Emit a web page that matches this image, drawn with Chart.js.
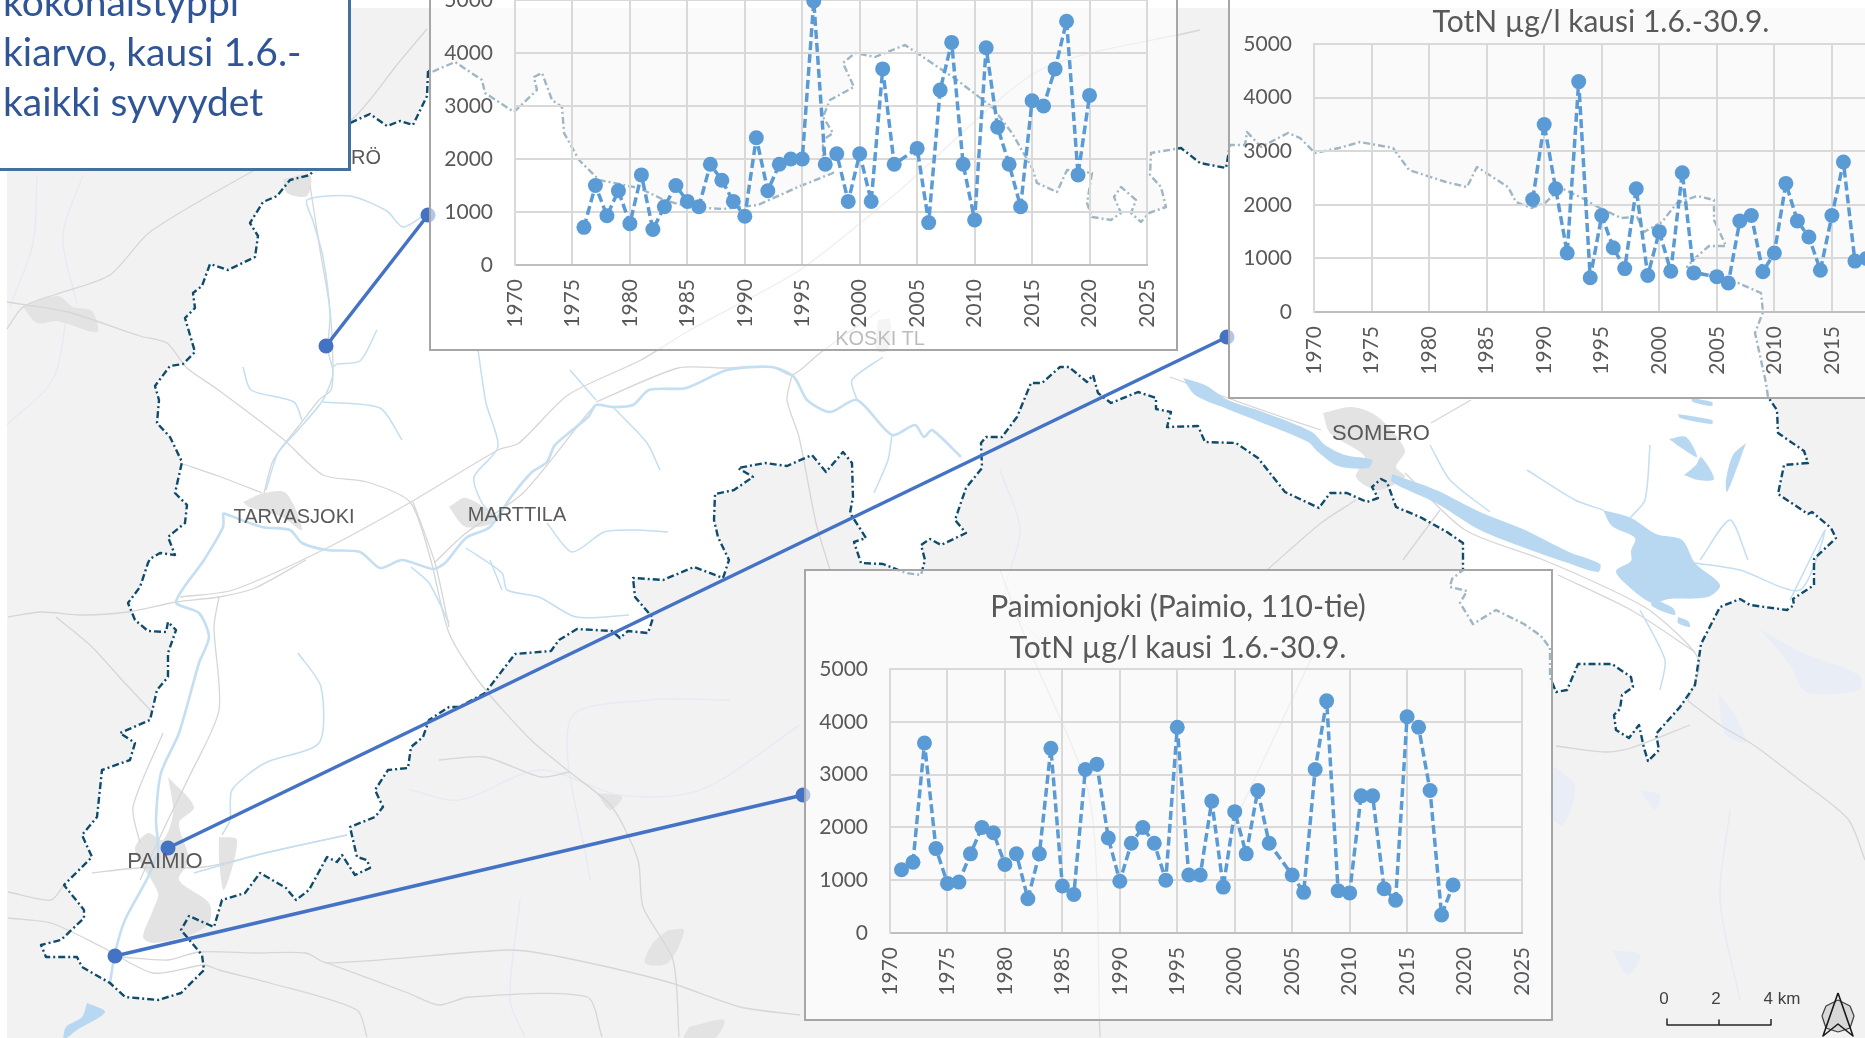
<!DOCTYPE html>
<html>
<head>
<meta charset="utf-8">
<script src="https://cdn.jsdelivr.net/npm/chart.js@4"></script>
<style>
html, body { margin: 0; width: 1865px; height: 1038px; overflow: hidden; background: #fff; }
body { position: relative; font-family: "Liberation Sans", sans-serif; }
canvas { position: absolute; display: block; }
#ground { position: absolute; left: 7px; top: 8px; right: 0; bottom: 0; background: #f2f2f3; }
.place { position: absolute; color: #595959; font-size: 20px; transform: translate(-50%, -50%); white-space: nowrap; }
.scale { position: absolute; color: #404040; font-size: 17px; transform: translate(-50%, -50%); white-space: nowrap; }
.box { position: absolute; box-sizing: border-box; border: 2px solid #a6a6a6; background: rgba(255,255,255,.6); }
#note { position: absolute; left: -3px; top: -3px; width: 354px; height: 174px; box-sizing: border-box; background: #fff; border: 3px solid #41719c; color: #2f5597; font-family: Lato, sans-serif; font-size: 39px; line-height: 50px; padding-left: 3px; white-space: nowrap; overflow: hidden; }
#note div { position: relative; top: -24px; }
</style>
</head>
<body>
<div id="ground"></div>
<canvas id="mapChart" width="1865" height="1038" style="left:0;top:0"></canvas>

<div class="place" style="left:366px;top:157px">RÖ</div>
<div class="place" style="left:294px;top:516px">TARVASJOKI</div>
<div class="place" style="left:517px;top:514px">MARTTILA</div>
<div class="place" style="left:165px;top:861px;font-size:22px">PAIMIO</div>
<div class="place" style="left:1381px;top:433px;font-size:22px">SOMERO</div>
<div class="place" style="left:880px;top:338px">KOSKI TL</div>
<div class="scale" style="left:1664px;top:999px">0</div>
<div class="scale" style="left:1716px;top:999px">2</div>
<div class="scale" style="left:1782px;top:999px">4 km</div>

<div class="box" style="left:429px;top:-10px;width:749px;height:361px"></div>
<canvas id="koskiChart" width="748" height="390" style="left:429px;top:-40px"></canvas>
<div class="box" style="left:1228px;top:-4px;width:746px;height:403px"></div>
<canvas id="someroChart" width="746" height="399" style="left:1228px;top:0"></canvas>
<div class="box" style="left:804px;top:569px;width:749px;height:452px"></div>
<canvas id="paimioChart" width="748" height="451" style="left:804px;top:569px"></canvas>

<div id="note"><div>kokonaistyppi</div><div>kiarvo, kausi 1.6.-</div><div>kaikki syvyydet</div></div>

<script>
// inset series (2004 has no sample in any of them)
const koskiYears = [1976,1977,1978,1979,1980,1981,1982,1983,1984,1985,1986,1987,1988,1989,1990,1991,1992,1993,1994,1995,1996,1997,1998,1999,2000,2001,2002,2003,2005,2006,2007,2008,2009,2010,2011,2012,2013,2014,2015,2016,2017,2018,2019,2020]
const koskiValues = [710,1500,930,1400,780,1700,670,1100,1500,1200,1100,1900,1600,1200,920,2400,1400,1900,2000,2000,4980,1900,2100,1200,2100,1200,3700,1900,2200,800,3300,4200,1900,850,4100,2600,1900,1100,3100,3000,3700,4600,1700,3200]

const someroYears = [1989,1990,1991,1992,1993,1994,1995,1996,1997,1998,1999,2000,2001,2002,2003,2005,2006,2007,2008,2009,2010,2011,2012,2013,2014,2015,2016,2017,2018]
const someroValues = [2100,3500,2300,1100,4300,640,1800,1200,810,2300,680,1500,760,2600,730,660,540,1700,1800,750,1100,2400,1700,1400,780,1800,2800,950,1000]

const paimioYears = [1971,1972,1973,1974,1975,1976,1977,1978,1979,1980,1981,1982,1983,1984,1985,1986,1987,1988,1989,1990,1991,1992,1993,1994,1995,1996,1997,1998,1999,2000,2001,2002,2003,2005,2006,2007,2008,2009,2010,2011,2012,2013,2014,2015,2016,2017,2018,2019]
const paimioValues = [1200,1340,3600,1600,940,965,1500,2000,1900,1300,1500,650,1500,3500,890,730,3100,3200,1800,980,1700,2000,1700,1000,3900,1100,1100,2500,870,2300,1500,2700,1700,1100,770,3100,4400,800,760,2600,2600,840,620,4100,3900,2700,340,910]

const paimioTitle = ['Paimionjoki (Paimio, 110-tie)', 'TotN µg/l kausi 1.6.-30.9.']
const someroTitle = ['TotN µg/l kausi 1.6.-30.9.']

// map layers, in picture pixels
const catchment = [[428,71],[427,96],[413,125],[400,121],[387,126],[370,114],[350,123],[310,175],[290,180],[277,196],[263,202],[250,223],[258,236],[255,257],[228,270],[210,264],[202,286],[193,293],[195,308],[185,318],[195,352],[183,364],[170,366],[155,386],[159,400],[157,423],[170,437],[182,462],[175,493],[187,505],[185,523],[168,537],[175,555],[160,553],[150,559],[148,563],[140,587],[128,603],[135,620],[148,631],[166,632],[168,622],[176,630],[168,653],[168,677],[157,690],[150,720],[120,733],[135,743],[130,760],[102,770],[97,817],[82,835],[92,857],[64,885],[84,910],[84,918],[61,940],[41,945],[46,957],[77,957],[82,967],[110,983],[125,997],[158,1000],[181,993],[204,970],[202,955],[181,930],[189,916],[214,927],[222,900],[245,893],[260,873],[286,888],[296,900],[309,890],[327,857],[337,862],[342,855],[355,875],[370,868],[367,860],[357,857],[350,827],[375,817],[383,807],[375,790],[388,770],[408,768],[411,747],[423,737],[429,720],[449,707],[459,707],[485,693],[515,654],[551,651],[559,640],[577,629],[612,631],[620,638],[628,631],[648,633],[653,618],[635,597],[633,578],[663,580],[694,567],[723,578],[729,560],[718,537],[714,520],[715,494],[734,490],[753,477],[738,468],[765,463],[787,466],[812,455],[826,472],[843,452],[852,463],[853,497],[850,513],[866,538],[854,542],[861,563],[883,564],[906,573],[921,575],[925,560],[921,545],[930,539],[941,545],[966,533],[955,520],[966,488],[982,468],[981,443],[986,437],[1002,437],[1017,417],[1031,383],[1042,383],[1060,367],[1069,367],[1087,382],[1093,375],[1098,393],[1111,403],[1138,392],[1156,398],[1156,409],[1171,412],[1167,427],[1198,426],[1205,442],[1236,443],[1258,458],[1285,492],[1319,508],[1330,493],[1347,493],[1367,502],[1378,498],[1372,487],[1381,479],[1387,482],[1396,507],[1420,517],[1447,532],[1463,543],[1463,570],[1452,579],[1450,587],[1467,591],[1460,603],[1473,624],[1496,610],[1524,624],[1541,636],[1550,648],[1550,677],[1556,692],[1567,690],[1578,664],[1601,664],[1612,664],[1631,677],[1633,687],[1622,695],[1620,709],[1614,715],[1616,730],[1629,738],[1639,725],[1644,748],[1648,761],[1659,750],[1656,734],[1680,707],[1695,685],[1701,644],[1720,607],[1740,599],[1750,605],[1787,610],[1794,605],[1793,599],[1814,585],[1814,559],[1836,538],[1831,528],[1812,512],[1808,514],[1778,494],[1784,465],[1808,463],[1804,451],[1778,433],[1777,410],[1768,397],[1766,383],[1755,333],[1763,312],[1761,293],[1738,283],[1726,282],[1701,273],[1687,267],[1693,260],[1709,246],[1726,246],[1714,220],[1714,200],[1697,196],[1677,203],[1662,222],[1644,232],[1637,217],[1621,218],[1598,207],[1582,198],[1561,188],[1545,203],[1531,208],[1516,202],[1508,187],[1477,167],[1467,187],[1446,182],[1409,170],[1393,148],[1360,142],[1339,148],[1315,153],[1300,138],[1288,133],[1261,147],[1247,132],[1245,145],[1230,145],[1226,168],[1200,163],[1181,148],[1151,153],[1150,175],[1161,187],[1166,207],[1149,213],[1141,222],[1131,213],[1136,200],[1121,187],[1114,197],[1121,213],[1111,220],[1092,217],[1087,203],[1092,173],[1067,170],[1057,192],[1037,183],[1032,168],[1012,133],[992,107],[957,80],[917,53],[905,45],[875,57],[855,53],[843,63],[854,87],[830,100],[823,117],[833,133],[823,140],[823,157],[833,173],[798,187],[758,205],[723,209],[689,207],[664,200],[639,188],[599,180],[579,160],[564,133],[562,107],[552,100],[542,73],[534,77],[537,90],[514,112],[485,93],[482,80],[455,62],[432,72],[428,71]]

const towns = [
  [[168,777],[194,807],[179,823],[189,860],[179,880],[209,903],[209,923],[190,935],[153,943],[143,937],[153,910],[158,893],[135,850],[148,833],[163,840],[173,813],[168,777]],
  [[219,837],[237,840],[224,890],[219,860],[219,837]],
  [[1323,413],[1352,407],[1378,417],[1405,450],[1396,467],[1405,477],[1378,490],[1356,477],[1365,457],[1330,433],[1323,413]],
  [[23,307],[58,296],[73,307],[92,311],[97,332],[57,321],[37,323],[23,307]],
  [[283,179],[310,175],[307,196],[287,193],[283,179]],
  [[243,502],[264,493],[286,493],[302,530],[282,517],[249,507],[243,502]],
  [[449,507],[466,498],[498,520],[466,527],[449,507]],
  [[668,930],[684,930],[668,963],[645,963],[653,943],[668,930]],
  [[597,793],[622,797],[610,810],[597,793]],
  [[689,1027],[724,1020],[714,1039],[684,1039],[689,1027]],
  [[878,320],[890,320],[888,350],[876,350],[878,320]]
]

const lakes = [
  [[87,1003],[105,1012],[77,1030],[64,1039],[66,1027],[82,1017],[87,1003]],
  [[1183,378],[1205,385],[1228,400],[1263,412],[1312,432],[1325,445],[1345,455],[1372,460],[1368,468],[1338,466],[1318,452],[1308,442],[1260,422],[1225,408],[1195,395],[1183,378]],
  [[1392,474],[1436,490],[1480,512],[1525,530],[1569,552],[1600,564],[1598,572],[1565,562],[1525,548],[1480,530],[1436,503],[1392,482],[1392,474]],
  [[1603,510],[1631,518],[1656,534],[1682,540],[1695,563],[1720,585],[1708,597],[1669,599],[1652,603],[1627,585],[1616,571],[1631,561],[1631,551],[1635,538],[1612,526],[1603,510]],
  [[1652,598],[1673,608],[1675,615],[1652,606],[1652,598]],
  [[1678,617],[1688,621],[1690,627],[1678,623],[1678,617]],
  [[1669,439],[1686,437],[1697,457],[1680,447],[1669,439]],
  [[1684,475],[1696,465],[1701,457],[1714,479],[1698,480],[1684,475]],
  [[1746,443],[1738,465],[1727,492],[1726,480],[1733,455],[1746,443]],
  [[1678,414],[1712,420],[1712,424],[1680,418],[1678,414]],
  [[1691,398],[1712,402],[1712,406],[1693,402],[1691,398]]
]

const greyLakes = [
  [[1759,628],[1801,652],[1859,675],[1859,690],[1806,692],[1790,665],[1759,628]],
  [[1718,693],[1735,715],[1746,742],[1725,734],[1718,693]],
  [[1554,766],[1575,786],[1563,825],[1550,815],[1554,766]],
  [[1640,790],[1660,795],[1655,810],[1640,790]],
  [[1520,960],[1535,985],[1520,990],[1520,960]],
  [[1612,950],[1640,955],[1628,975],[1612,950]]
]

const rivers = [
  [[110,983],[115,953],[125,920],[148,877],[158,850],[156,820],[161,773],[179,733],[199,663],[209,637],[199,613],[176,602],[204,560],[223,527],[223,513]],
  [[223,513],[262,527],[290,530],[302,543],[327,550],[360,552],[380,568],[402,560],[433,569],[445,563],[466,538],[490,527],[511,497],[531,473],[547,462],[555,445],[588,417],[596,405],[613,407],[633,405],[649,390],[686,388],[727,370],[772,367],[794,377],[807,400],[830,412],[857,400],[892,435],[915,425],[924,437],[932,430],[961,457]],
  [[266,490],[278,453],[298,430],[323,400],[333,373],[328,350],[330,314],[323,257],[313,221],[307,200],[350,196],[387,211],[403,227],[430,211]],
  [[333,367],[337,364],[360,361],[377,330]],
  [[243,367],[251,390],[294,402],[302,420]],
  [[323,402],[380,408],[402,440]],
  [[478,350],[486,403],[498,447],[474,477],[482,503],[498,520]],
  [[613,407],[647,443],[660,470]],
  [[570,370],[596,400]],
  [[547,523],[572,552],[604,532],[633,530],[668,532]],
  [[466,548],[502,573],[507,590],[539,597],[576,617],[629,615]],
  [[411,567],[429,583],[449,623]],
  [[298,653],[321,687],[319,743],[265,763],[232,790],[230,820],[222,835]],
  [[194,873],[265,853],[347,835]],
  [[490,560],[502,590]],
  [[857,400],[852,380],[883,357]],
  [[892,435],[888,460],[874,493]],
  [[1430,445],[1450,480],[1490,512]],
  [[1527,470],[1575,500],[1603,510]],
  [[1650,445],[1645,500],[1630,518]],
  [[1748,560],[1730,520],[1700,560]],
  [[1790,600],[1825,530],[1800,590],[1740,570],[1695,563]],
  [[1640,610],[1665,660],[1660,690]]
]

const greyRivers = [
  [[37,175],[33,243],[10,307]],
  [[83,175],[63,236],[77,304]],
  [[67,314],[53,379],[7,425]],
  [[410,790],[460,800],[540,770],[620,795],[700,790],[800,725]],
  [[1000,470],[1020,530],[1005,600],[1040,640]],
  [[1730,810],[1720,900],[1740,1000]],
  [[520,900],[510,1000],[525,1037]],
  [[590,880],[570,720],[650,700],[730,700]]
]

const roads = [
  [[7,329],[23,307],[57,294],[110,275],[150,232],[253,171],[350,121],[400,61],[427,29]],
  [[7,302],[68,312],[140,336],[167,343],[187,368],[217,389],[283,439],[323,475],[367,482],[410,502],[430,557],[449,633],[480,683],[531,740],[571,773],[612,807],[638,860],[643,907],[673,960],[679,1037]],
  [[180,597],[233,590],[327,548],[411,502],[498,450],[519,443],[568,395],[641,360],[690,330],[800,270],[900,190],[1040,70],[1200,30]],
  [[596,402],[678,368],[723,368],[772,367],[792,375],[820,353],[880,310]],
  [[792,375],[787,400],[799,437],[816,523],[830,570]],
  [[180,463],[221,477],[262,493]],
  [[264,493],[272,463],[282,447],[298,427],[319,400],[331,390],[333,367],[330,310],[320,250],[310,185]],
  [[435,562],[466,533],[523,493],[588,413],[596,405]],
  [[413,502],[435,563],[449,627]],
  [[8,617],[41,612],[82,615],[128,612],[176,602],[219,597],[255,588],[306,560]],
  [[219,597],[214,627],[219,710],[189,777],[168,820],[140,880]],
  [[163,733],[133,807],[140,843]],
  [[92,873],[138,868],[204,867],[265,853],[347,835]],
  [[8,892],[51,900],[64,885]],
  [[8,918],[51,923],[102,947],[153,973],[204,965],[219,970],[270,983],[357,1010],[367,1037]],
  [[122,957],[168,960],[199,952],[255,953],[306,953],[327,963],[510,950],[561,957],[668,982],[740,1007],[800,1015]],
  [[439,760],[485,757],[541,777],[569,772]],
  [[327,963],[408,993],[439,1005],[469,997],[587,997],[602,1037]],
  [[56,617],[92,647],[122,680],[153,713]],
  [[1688,701],[1720,725],[1755,746],[1797,778],[1848,819],[1865,860]],
  [[1556,746],[1605,752],[1631,748],[1690,725]],
  [[1558,575],[1631,610],[1695,652]],
  [[1405,473],[1465,530],[1541,559],[1605,587],[1652,612],[1699,660],[1688,701]],
  [[1170,377],[1228,398],[1276,415],[1321,430]],
  [[1356,500],[1321,523],[1267,570]],
  [[1431,423],[1471,400]],
  [[1440,510],[1403,560]],
  [[1000,570],[1030,650],[1090,800],[1100,1037]],
  [[1320,640],[1240,810]]
]

const leaders = [
  [[326,346],[428,215]],
  [[168,848],[1227,337]],
  [[115,956],[803,795]]
]

const scaleBar = [[1667,1019],[1667,1025],[1719,1025],[1719,1020],[1719,1025],[1771,1025],[1771,1019]]
const northArrow = [[1838,993],[1823,1036],[1838,1024],[1853,1036],[1838,993]]
const northRing = [[1838,1000],[1850,1006],[1854,1016],[1850,1028],[1838,1032],[1826,1028],[1822,1016],[1826,1006],[1838,1000]]

const toXY = (pts) => pts.map((p) => ({ x: p[0], y: p[1] }))

let mapLayers = []
function addLayer(pts, color, width, extra) {
  mapLayers.push(Object.assign({
    data: toXY(pts), showLine: true, borderColor: color, borderWidth: width,
    pointRadius: 0, tension: 0, order: -mapLayers.length, borderCapStyle: 'butt', borderJoinStyle: 'round'
  }, extra))
}
function addShape(pts, color) {
  addLayer(pts, color, 0, { fill: 'shape', backgroundColor: color, tension: 0.3 })
}

greyLakes.forEach((p) => addShape(p, '#e9eef6'))
greyRivers.forEach((p) => addLayer(p, '#e6ebf3', 1.5, { tension: 0.3 }))
addLayer(catchment, 'rgba(0,0,0,0)', 0, { fill: 'shape', backgroundColor: '#ffffff' })
towns.forEach((p) => addShape(p, '#e3e3e4'))
roads.forEach((p) => addLayer(p, '#d6d6d6', 1.3, { tension: 0.25 }))
rivers.forEach((p, i) => addLayer(p, '#c4def2', i < 2 ? 2.6 : 1.5, { tension: 0.25 }))
lakes.forEach((p) => addShape(p, '#b8d8f2'))
addLayer(catchment, '#0f4c6b', 2.4, { borderDash: [7, 3, 2, 3] })
leaders.forEach((p) => addLayer(p, '#4472c4', 3.5, { pointRadius: 7.5, pointBackgroundColor: '#4472c4', pointBorderWidth: 0 }))
addLayer(scaleBar, '#262626', 1.5)
addShape(northRing, '#d8d8d8')
addLayer(northRing, '#404040', 1.2)
addLayer(northArrow, '#1a1a1a', 1.6)

new Chart('mapChart', {
  type: 'scatter',
  data: { datasets: mapLayers },
  options: {
    responsive: false, animation: false, events: [],
    layout: { padding: 0, autoPadding: false },
    plugins: { legend: { display: false }, title: { display: false }, tooltip: { enabled: false } },
    scales: {
      x: { type: 'linear', display: false, min: 0, max: 1865 },
      y: { type: 'linear', display: false, min: 0, max: 1038, reverse: true }
    }
  }
})

function insetChart(id, years, values, title, top, side, axisHeight, titlePad) {
  new Chart(id, {
    type: 'scatter',
    data: {
      datasets: [{
        data: years.map((y, i) => ({ x: y, y: values[i] })),
        showLine: true,
        borderColor: '#5b9bd5',
        borderWidth: 3.5,
        borderDash: [9, 4],
        borderJoinStyle: 'round',
        pointRadius: 7.5,
        pointBackgroundColor: '#5b9bd5',
        pointBorderWidth: 0,
        tension: 0,
        clip: false
      }]
    },
    options: {
      responsive: false, animation: false, events: [],
      layout: { padding: { top: top, right: 0, left: 0, bottom: 0 }, autoPadding: false },
      plugins: {
        legend: { display: false },
        tooltip: { enabled: false },
        title: {
          display: title.length > 0,
          text: title,
          color: '#595959',
          font: { family: 'Lato', size: 30, weight: 'normal', lineHeight: 1.37 },
          padding: titlePad
        }
      },
      scales: {
        x: {
          type: 'linear', min: 1970, max: 2025,
          // rotated labels would otherwise reserve extra room right of the plot
          afterFit: (s) => { s.height = axisHeight; s.paddingLeft = 0; s.paddingRight = 0 },
          ticks: { stepSize: 5, minRotation: 90, maxRotation: 90, padding: 14, color: '#595959', font: { family: 'Lato', size: 21 }, callback: (v) => String(v) },
          grid: { color: '#d9d9d9', lineWidth: 2, drawTicks: false },
          border: { color: '#bfbfbf', width: 2 }
        },
        y: {
          min: 0, max: 5000,
          afterFit: (s) => { s.width = 86 },
          ticks: { stepSize: 1000, padding: 22, color: '#595959', font: { family: 'Lato', size: 21 }, callback: (v) => String(v) },
          grid: { color: '#d9d9d9', lineWidth: 2, drawTicks: false },
          border: { color: '#d9d9d9', width: 2 }
        },
        // empty axis, keeps the margin right of the plot while the title stays centred on the box
        rightGap: {
          axis: 'y', position: 'right', display: true,
          afterFit: (s) => { s.width = side },
          ticks: { display: false },
          grid: { display: false },
          border: { display: false }
        }
      }
    }
  })
}

insetChart('koskiChart', koskiYears, koskiValues, [], 40, 30, 85, 0)
insetChart('someroChart', someroYears, someroValues, someroTitle, 0, 27, 87, { top: 2, bottom: 1 })
insetChart('paimioChart', paimioYears, paimioValues, paimioTitle, 0, 30, 87, { top: 18, bottom: 0 })
</script>
</body>
</html>
